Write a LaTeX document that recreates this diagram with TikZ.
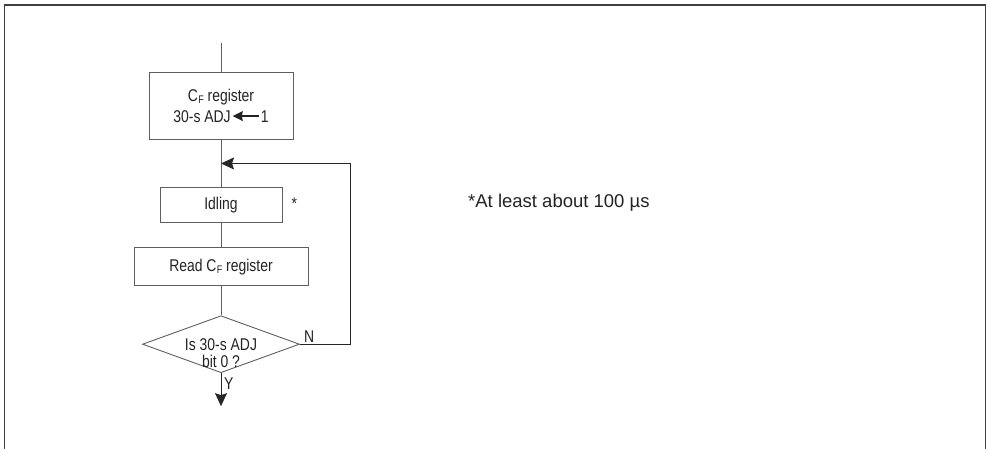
\documentclass[tikz,border=0pt]{standalone}
\usepackage{fontspec}
\setmainfont{Liberation Sans}
\newfontfamily\narrowsf[FakeStretch=0.82]{Liberation Sans}
\usetikzlibrary{shapes.geometric, arrows.meta, positioning}
\definecolor{inkgray}{RGB}{35,35,35}
\definecolor{linegray}{RGB}{95,95,95}
\newcommand{\regcf}{C\kern0.3pt\raisebox{-0.25ex}{\fontsize{11}{11}\selectfont F}}
\newcommand{\getarrow}{\kern1.5pt\tikz[baseline=-6pt]\draw[inkgray, line width=1.2pt, -{Stealth[length=10pt, width=10pt, inset=1pt]}] (0,0) -- (-26pt,0);\kern1.5pt}

\begin{document}
\begin{tikzpicture}[x=1pt, y=1pt, >={Stealth[length=13pt, width=12pt, inset=2pt]}]
  \tikzstyle{stepbox} = [rectangle, draw=linegray, line width=0.9pt, text=inkgray, align=center, inner sep=2pt, font=\narrowsf\fontsize{17}{21}\selectfont]
  \tikzstyle{decision} = [diamond, draw=linegray, line width=0.9pt, minimum width=157pt, minimum height=57pt, inner sep=0pt]
  \tikzstyle{tag} = [text=inkgray, inner sep=0pt, align=center, font=\narrowsf\fontsize{17}{17}\selectfont]
  \tikzstyle{flow} = [draw=linegray, line width=0.9pt]

  \useasboundingbox (0,0) rectangle (987,-449);
  \draw[black!75, line width=1.6pt] (4.5,-449) -- (4.5,-5) -- (985.5,-5) -- (985.5,-449);

  \node [stepbox, minimum width=144pt, minimum height=67pt] (setadj) at (221,-105.5) {\regcf{} register\\30-s ADJ\getarrow1};
  \node [stepbox, minimum width=122pt, minimum height=35pt, below=48pt of setadj] (idle) {Idling};
  \node [stepbox, minimum width=174pt, minimum height=38pt, below=24pt of idle] (readcf) {Read \regcf{} register};
  \node [decision, below=29pt of readcf, label={[tag, yshift=-9pt]center:{Is 30-s ADJ\\bit 0 ?}}] (check) {};

  \node [tag, right=9pt of idle, yshift=2pt] (star) {*};
  \node [text=inkgray, inner sep=0pt, anchor=west, font=\fontsize{18.5}{22}\selectfont] (note) at (468,-203) {*At least about 100 µs};

  \coordinate [above=29pt of setadj] (entry);
  \coordinate [below=24pt of setadj] (rejoin);
  \coordinate [right=50pt of check] (loopturn);
  \coordinate [below=33pt of check] (exit);

  \draw [flow] (entry) -- (setadj);
  \draw [flow] (setadj) -- (idle);
  \draw [flow] (idle) -- (readcf);
  \draw [flow] (readcf) -- (check);
  \draw [flow, draw=black!85, ->] (check.east) -- (loopturn) |- (rejoin);
  \draw [flow, draw=black!85, ->] (check.south) -- (exit);

  \node [tag, anchor=south west] (no) at ([xshift=4pt, yshift=2pt]check.east) {N};
  \node [tag, anchor=north west] (yes) at ([xshift=3pt, yshift=-4pt]check.south) {Y};
\end{tikzpicture}
\end{document}
